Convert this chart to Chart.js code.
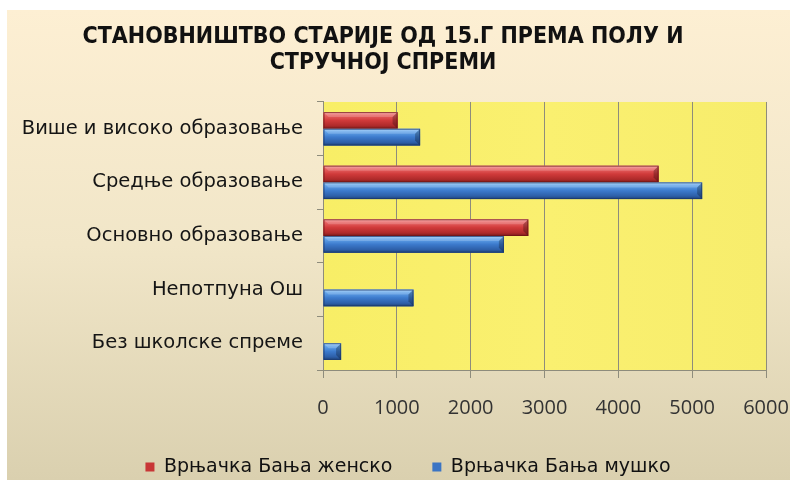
<!DOCTYPE html>
<html>
<head>
<meta charset="utf-8">
<script src="https://cdn.jsdelivr.net/npm/chart.js@4/dist/chart.umd.min.js"></script>
<style>
html,body{margin:0;padding:0;background:#fff;}
#wrap{width:790px;height:480px;position:relative;}
</style>
</head>
<body>
<div id="wrap"><canvas id="c" width="790" height="480"></canvas></div>
<script>
const categories = ['Више и високо образовање','Средње образовање','Основно образовање','Непотпуна Ош','Без школске спреме'];
const femaleValues = [1010, 4545, 2780, null, null];
const maleValues = [1315, 5135, 2450, 1225, 245];
const seriesNames = ['Врњачка Бања женско','Врњачка Бања мушко'];
const xTicks = [0,1000,2000,3000,4000,5000,6000];
const titleLines = ['СТАНОВНИШТВО СТАРИЈЕ ОД 15.Г ПРЕМА ПОЛУ И','СТРУЧНОЈ СПРЕМИ'];

const redStops = [[0,'#F49A9A'],[0.18,'#E86464'],[0.5,'#D03A3A'],[0.82,'#AE2A2A'],[1,'#7A1C1C']];
const blueStops = [[0,'#9CCBF4'],[0.18,'#62A4EA'],[0.5,'#3C7ACC'],[0.82,'#2D5FA8'],[1,'#1F4276']];

const bgPlugin = {
  id:'bg',
  beforeDraw(chart){
    const ctx = chart.ctx;
    ctx.save();
    ctx.fillStyle = '#ffffff';
    ctx.fillRect(0,0,chart.width,chart.height);
    const g = ctx.createLinearGradient(0,10,0,chart.height);
    g.addColorStop(0,'#FDEFD3');
    g.addColorStop(0.5,'#F1E6C8');
    g.addColorStop(1,'#DAD0AF');
    ctx.fillStyle = g;
    ctx.fillRect(7,10,chart.width-7,chart.height-10);
    const a = chart.chartArea;
    const gy = ctx.createLinearGradient(a.left,0,a.right,0);
    gy.addColorStop(0,'#F8EE66');
    gy.addColorStop(0.5,'#FAF070');
    gy.addColorStop(1,'#F7ED6C');
    ctx.fillStyle = gy;
    ctx.fillRect(a.left,a.top,a.right-a.left,a.bottom-a.top);
    ctx.restore();
  }
};

const legendShift = {
  id:'legendShift',
  afterLayout(chart){
    if (chart.legend){ chart.legend.left += 25; chart.legend.right += 25; }
  }
};

const barPlugin = {
  id:'bars3d',
  afterDatasetsDraw(chart){
    const ctx = chart.ctx;
    chart.data.datasets.forEach((ds,di)=>{
      const meta = chart.getDatasetMeta(di);
      const stops = di===0 ? redStops : blueStops;
      meta.data.forEach((el,i)=>{
        if (ds.data[i]==null) return;
        const p = el.getProps(['x','y','base','height'],true);
        const l = Math.min(p.x,p.base), r = Math.max(p.x,p.base);
        const t = p.y - p.height/2, b = p.y + p.height/2;
        ctx.save();
        const g = ctx.createLinearGradient(0,t,0,b);
        stops.forEach(s=>g.addColorStop(s[0],s[1]));
        ctx.fillStyle = g;
        ctx.fillRect(l,t,r-l,b-t);
        const bw = Math.min(5,(r-l)/2);
        ctx.fillStyle = 'rgba(0,0,0,0.25)';
        ctx.beginPath();
        ctx.moveTo(r-bw,t+bw);ctx.lineTo(r,t);ctx.lineTo(r,b);ctx.lineTo(r-bw,b-bw);ctx.closePath();
        ctx.fill();
        ctx.fillStyle = 'rgba(255,255,255,0.18)';
        ctx.beginPath();
        ctx.moveTo(l,t);ctx.lineTo(r,t);ctx.lineTo(r-bw,t+bw);ctx.lineTo(l+bw,t+bw);ctx.closePath();
        ctx.fill();
        ctx.strokeStyle = di===0 ? 'rgba(110,20,20,0.7)' : 'rgba(25,55,110,0.7)';
        ctx.lineWidth = 1;
        ctx.strokeRect(l+0.5,t+0.5,r-l-1,b-t-1);
        ctx.restore();
      });
    });
  }
};

new Chart(document.getElementById('c'),{
  type:'bar',
  data:{
    labels:categories,
    datasets:[
      {label:seriesNames[0],data:femaleValues,backgroundColor:'#C83636',borderWidth:0},
      {label:seriesNames[1],data:maleValues,backgroundColor:'#3A74C4',borderWidth:0}
    ]
  },
  options:{
    indexAxis:'y',
    responsive:false,
    animation:false,
    devicePixelRatio:1,
    categoryPercentage:0.623,
    barPercentage:1.0,
    layout:{padding:{left:0,right:24,top:0,bottom:0}},
    plugins:{
      title:{
        display:true,
        text:titleLines,
        color:'#111',
        font:{family:"'Liberation Sans Narrow','DejaVu Sans Condensed','Liberation Sans',sans-serif",size:23,weight:'bold',lineHeight:1.13},
        padding:{top:24,bottom:26}
      },
      legend:{
        display:true,
        position:'bottom',
        maxHeight:62.5,
        labels:{
          color:'#111',
          font:{family:"'DejaVu Sans',sans-serif",size:19},
          boxWidth:9,boxHeight:9,
          padding:40
        }
      },
      tooltip:{enabled:false}
    },
    scales:{
      x:{
        min:0,max:6000,
        afterBuildTicks(s){ s.ticks = xTicks.map(v=>({value:v})); },
        grid:{color:'#8E8C7C',lineWidth:1,tickLength:8,drawTicks:true},
        border:{color:'#8E8C7C'},
        ticks:{color:'#333',font:{family:"'Open Sans',sans-serif",size:20},padding:18,callback:(v)=>String(v)},
        afterFit(s){ s.height = 47.5; s.paddingRight = 0; s.paddingLeft = 0; }
      },
      y:{
        grid:{drawOnChartArea:false,color:'#8E8C7C',tickLength:6,offset:true},
        border:{color:'#8E8C7C'},
        ticks:{color:'#151515',font:{family:"'DejaVu Sans',sans-serif",size:19.5},padding:14},
        afterFit(s){ s.width = 323; }
      }
    }
  },
  plugins:[bgPlugin,legendShift,barPlugin]
});
</script>
</body>
</html>
